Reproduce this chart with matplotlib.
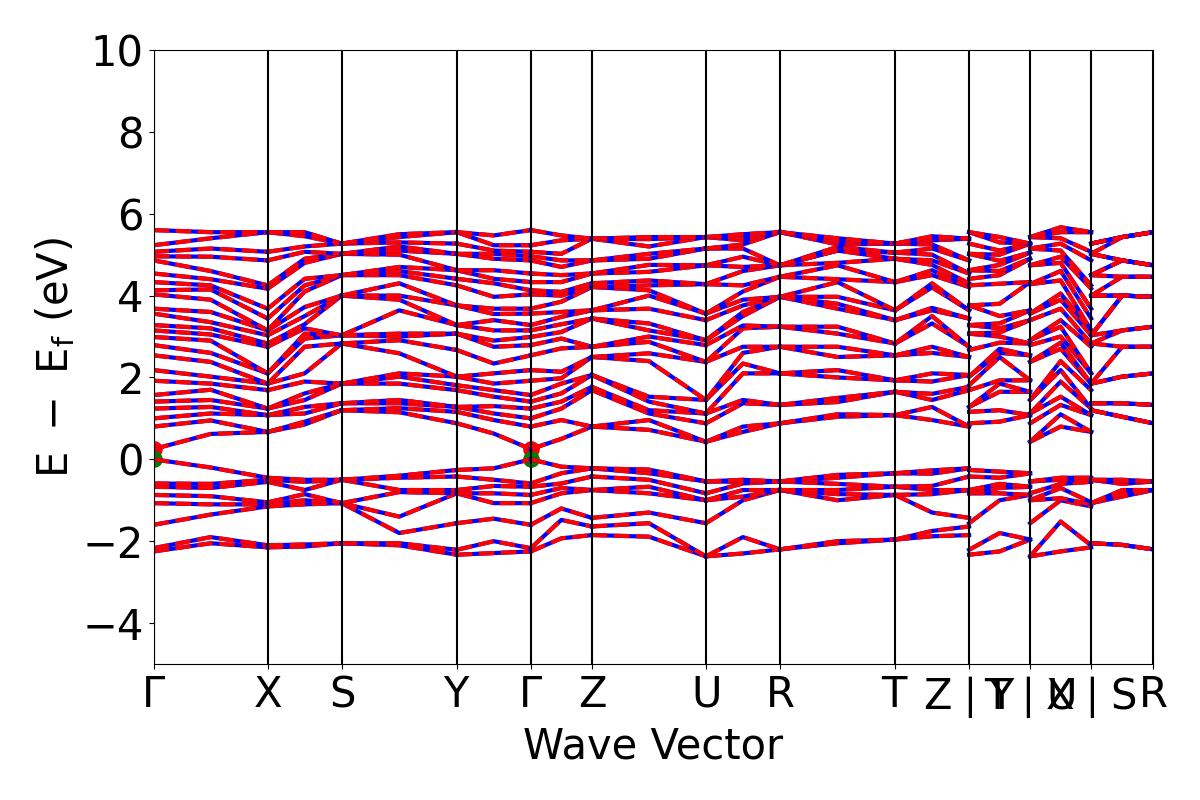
import matplotlib
matplotlib.use("Agg")
import matplotlib.pyplot as plt

# high-symmetry points (path distance) and labels
tick_k = [0, 1.14, 1.88, 3.03, 3.77, 4.38, 5.52, 6.26, 7.41, 8.15, 8.76, 9.37, 9.99]
tick_labels = [r"$\mathrm{\Gamma}$", r"$\mathrm{X}$", r"$\mathrm{S}$", r"$\mathrm{Y}$",
               r"$\mathrm{\Gamma}$", r"$\mathrm{Z}$", r"$\mathrm{U}$", r"$\mathrm{R}$",
               r"$\mathrm{T}$", r"$\mathrm{Z}\mid\mathrm{Y}$", r"$\mathrm{T}\mid\mathrm{U}$",
               r"$\mathrm{X}\mid\mathrm{S}$", r"$\mathrm{R}$"]
y_ticks = [-4, -2, 0, 2, 4, 6, 8, 10]

# band energies (eV, relative to E_f) read at each point: 8 valence + 24 conduction
G = [-2.25, -2.17, -1.6, -1.07, -0.87, -0.67, -0.59, 0.0,
     0.25, 0.8, 1.0, 1.24, 1.41, 1.57, 1.92, 2.18, 2.54, 2.79, 2.99, 3.15, 3.28, 3.56,
     3.68, 4.03, 4.13, 4.33, 4.54, 4.86, 4.96, 5.07, 5.23, 5.6]
GX = [-2.05, -1.9, -1.35, -1.1, -0.9, -0.7, -0.6, -0.2,
      0.62, 0.95, 1.12, 1.28, 1.45, 1.7, 1.85, 2.02, 2.38, 2.6, 2.9, 3.05, 3.2, 3.35,
      3.6, 3.9, 4.15, 4.25, 4.4, 4.6, 4.95, 5.15, 5.4, 5.55]
X = [-2.15, -2.1, -1.15, -1.1, -1.05, -0.55, -0.5, -0.45,
     0.67, 0.67, 1.08, 1.08, 1.24, 1.24, 1.69, 1.85, 1.85, 2.1, 2.1, 2.75, 2.83, 3.03,
     3.15, 3.15, 3.44, 3.68, 4.17, 4.25, 4.86, 5.07, 5.55, 5.55]
XS = [-2.13, -2.08, -1.1, -1.0, -0.85, -0.75, -0.55, -0.5,
      0.85, 0.92, 1.12, 1.28, 1.45, 1.61, 1.9, 2.1, 2.75, 2.95, 3.07, 3.2, 3.3, 3.5,
      3.72, 4.1, 4.25, 4.41, 4.8, 4.9, 5.07, 5.2, 5.45, 5.55]
S = [-2.05, -2.05, -1.07, -1.07, -1.07, -0.5, -0.5, -0.5,
     1.2, 1.2, 1.37, 1.37, 1.85, 1.85, 1.85, 2.83, 2.83, 3.03, 3.03, 3.03, 4.0, 4.0,
     4.0, 4.5, 4.5, 4.5, 5.02, 5.02, 5.02, 5.27, 5.27, 5.27]
SY = [-2.1, -2.05, -1.8, -1.4, -0.8, -0.75, -0.45, -0.4,
      1.15, 1.25, 1.37, 1.45, 1.85, 2.02, 2.1, 2.59, 2.91, 3.0, 3.07, 3.64, 3.9, 4.0,
      4.3, 4.5, 4.6, 4.7, 5.0, 5.1, 5.2, 5.3, 5.43, 5.5]
Y = [-2.33, -2.21, -1.56, -0.83, -0.83, -0.75, -0.42, -0.26,
     0.88, 1.16, 1.28, 1.28, 1.69, 1.81, 2.02, 2.02, 2.67, 3.07, 3.07, 3.28, 3.28, 3.76,
     3.76, 4.25, 4.41, 4.62, 4.62, 5.02, 5.02, 5.27, 5.55, 5.55]
YG = [-2.29, -2.0, -1.45, -1.07, -0.83, -0.65, -0.5, -0.22,
      0.63, 0.96, 1.12, 1.3, 1.53, 1.69, 1.85, 2.1, 2.34, 2.75, 2.9, 3.15, 3.4, 3.55,
      3.68, 3.97, 4.3, 4.41, 4.62, 4.9, 5.02, 5.1, 5.23, 5.47]
GZ = [-1.93, -1.48, -1.2, -0.83, -0.7, -0.59, -0.34, -0.18,
      0.5, 0.96, 1.24, 1.41, 1.61, 1.85, 1.98, 2.14, 2.71, 2.95, 3.11, 3.3, 3.48, 3.6,
      3.85, 4.0, 4.09, 4.33, 4.5, 4.7, 4.86, 5.02, 5.35, 5.47]
Z = [-1.85, -1.64, -1.43, -0.75, -0.75, -0.42, -0.22, -0.22,
     0.8, 0.8, 1.69, 1.77, 2.06, 2.06, 2.5, 2.5, 2.75, 2.75, 3.44, 3.44, 3.64, 3.64,
     4.21, 4.21, 4.3, 4.54, 4.54, 4.86, 4.86, 5.39, 5.39, 5.39]
ZU = [-1.89, -1.56, -1.3, -0.83, -0.67, -0.5, -0.34, -0.25,
      0.72, 0.96, 1.12, 1.2, 1.41, 1.53, 2.4, 2.59, 2.87, 3.0, 3.15, 3.32, 3.68, 4.0,
      4.13, 4.25, 4.37, 4.58, 4.75, 4.9, 5.02, 5.2, 5.38, 5.43]
U = [-2.37, -2.37, -1.56, -1.0, -1.0, -0.83, -0.54, -0.54,
     0.43, 0.43, 0.88, 1.12, 1.12, 1.45, 1.45, 2.38, 2.38, 2.79, 2.91, 2.91, 3.4, 3.56,
     3.56, 4.28, 4.28, 4.74, 4.74, 5.15, 5.15, 5.43, 5.43, 5.43]
UR = [-2.3, -1.9, -1.0, -0.91, -0.75, -0.59, -0.55, -0.5,
      0.67, 0.8, 1.37, 1.45, 2.1, 2.34, 2.6, 2.75, 3.2, 3.27, 3.5, 3.6, 3.76, 3.9,
      4.1, 4.25, 4.6, 4.7, 4.95, 5.15, 5.25, 5.35, 5.43, 5.5]
R = [-2.2, -2.2, -0.75, -0.75, -0.75, -0.54, -0.54, -0.54,
     0.88, 0.88, 1.33, 1.33, 2.1, 2.1, 2.75, 2.75, 3.24, 3.24, 3.97, 3.97, 3.97, 3.97,
     4.46, 4.46, 4.74, 4.74, 4.74, 4.74, 5.55, 5.55, 5.55, 5.55]
RT = [-2.05, -2.0, -1.0, -0.85, -0.75, -0.6, -0.45, -0.38,
      1.04, 1.1, 1.4, 1.5, 2.0, 2.18, 2.5, 2.75, 3.07, 3.24, 3.68, 3.8, 3.97, 4.33,
      4.4, 4.74, 4.8, 5.1, 5.1, 5.19, 5.25, 5.3, 5.35, 5.4]
T = [-1.96, -1.96, -0.87, -0.87, -0.67, -0.67, -0.34, -0.34,
     1.08, 1.08, 1.65, 1.65, 1.93, 1.93, 2.54, 2.54, 2.83, 2.83, 3.4, 3.4, 3.64, 3.64,
     4.33, 4.33, 4.9, 4.9, 5.05, 5.05, 5.27, 5.27, 5.27, 5.27]
TZ = [-1.88, -1.75, -1.3, -0.85, -0.75, -0.65, -0.35, -0.27,
      0.96, 1.28, 1.45, 1.6, 1.9, 2.1, 2.6, 2.75, 3.32, 3.5, 3.64, 3.7, 4.2, 4.3,
      4.5, 4.62, 4.75, 4.86, 5.0, 5.15, 5.25, 5.35, 5.4, 5.45]
YT = [-2.25, -1.8, -1.0, -0.83, -0.7, -0.6, -0.45, -0.3,
      0.92, 1.2, 1.65, 1.85, 1.93, 2.5, 2.6, 2.7, 2.85, 3.0, 3.1, 3.2, 3.32, 3.5,
      3.8, 4.29, 4.5, 4.6, 4.75, 4.85, 5.0, 5.1, 5.3, 5.43]
UX = [-2.25, -1.52, -1.0, -0.95, -0.7, -0.6, -0.5, -0.45,
      0.8, 1.1, 1.33, 1.53, 1.9, 2.18, 2.4, 2.7, 2.85, 3.0, 3.24, 3.4, 3.68, 3.9,
      4.05, 4.37, 4.6, 4.8, 4.95, 5.1, 5.27, 5.4, 5.55, 5.67]
SR = [-2.09, -2.09, -0.91, -0.85, -0.75, -0.6, -0.54, -0.5,
      1.04, 1.04, 1.37, 1.37, 2.02, 2.02, 2.75, 2.75, 3.15, 3.15, 4.0, 4.0, 4.0, 4.0,
      4.46, 4.46, 4.86, 4.86, 4.86, 4.86, 5.43, 5.43, 5.43, 5.43]

# each branch: start point, middle, end point
branches = [(G, GX, X), (X, XS, S), (S, SY, Y), (Y, YG, G), (G, GZ, Z), (Z, ZU, U),
            (U, UR, R), (R, RT, T), (T, TZ, Z), (Y, YT, T), (U, UX, X), (S, SR, R)]

vbm_k = [0, 3.77]
vbm_e = [0.0, 0.0]
cbm_e = [0.25, 0.25]

fig = plt.figure(figsize=(12, 8), dpi=100)
ax = fig.add_axes([0.128, 0.17, 0.833, 0.7675])

for i, cols in enumerate(branches):
    k = [tick_k[i], (tick_k[i] + tick_k[i + 1]) / 2, tick_k[i + 1]]
    for b in range(len(cols[0])):
        e = [c[b] for c in cols]
        ax.plot(k, e, 'b-', lw=3)
        ax.plot(k, e, 'r--', lw=3)

for kk in tick_k:
    ax.axvline(kk, color='k', lw=1.5)

ax.scatter(vbm_k, cbm_e, color='r', s=120)
ax.scatter(vbm_k, vbm_e, color='g', s=120)

ax.set_xlim(tick_k[0], tick_k[-1])
ax.set_ylim(-5, 10)
ax.set_xticks(tick_k)
ax.set_xticklabels(tick_labels)
ax.set_yticks(y_ticks)
ax.tick_params(labelsize=30)
ax.set_xlabel("Wave Vector", fontsize=30)
ax.set_ylabel(r"$\mathrm{E\ -\ E_f\ (eV)}$", fontsize=30)

fig.savefig("out.png")
